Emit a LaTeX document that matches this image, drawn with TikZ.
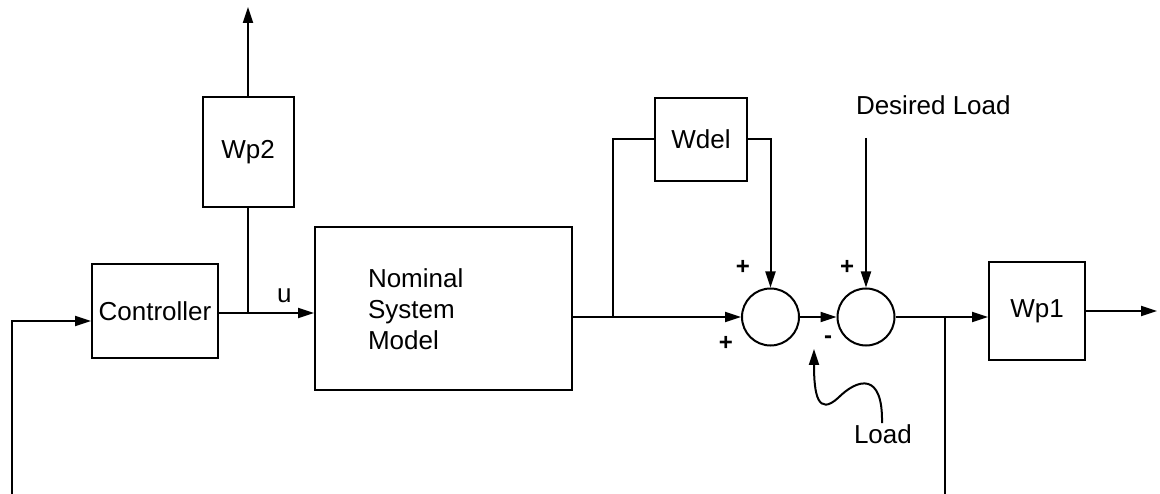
\documentclass[tikz,border=0pt]{standalone}
\usepackage{fontspec}
\setmainfont{Liberation Sans}
\usetikzlibrary{arrows.meta}
\begin{document}
\begin{tikzpicture}[x=1pt,y=-1pt,
  line width=2pt,
  every node/.style={font=\fontsize{26}{31}\selectfont},
  blk/.style={draw, line width=2pt, inner sep=0pt},
  sumj/.style={draw, circle, line width=2pt, minimum size=57pt, inner sep=0pt},
  arr/.style={-{Triangle[length=16pt,width=10pt]}},
  lbl/.style={inner sep=0pt},
  sgn/.style={inner sep=0pt, font=\fontsize{24}{28}\selectfont\bfseries}]
\useasboundingbox (0,0) rectangle (1160,494);
% blocks
\node[blk, minimum width=126pt, minimum height=94pt] (ctrl) at (155,311) {Controller};
\node[blk, minimum width=91pt, minimum height=110pt] (wp2) at (248,152) {Wp2};
\node[blk, minimum width=257pt, minimum height=163pt] (model) at (443.5,308.5) {};
\node[lbl, align=left, anchor=north west] (modeltxt) at (367,268) {Nominal\\System\\Model};
\node[blk, minimum width=92pt, minimum height=83pt] (wdel) at (701,139.5) {Wdel};
\node[blk, minimum width=96pt, minimum height=98pt] (wp1) at (1037,311) {Wp1};
\node[sumj] (s1) at (770.5,317) {};
\node[sumj] (s2) at (866,317) {};
% labels
\node[lbl, anchor=base west] (u) at (276,303) {u};
\node[lbl, anchor=base west] (dl) at (855,115) {Desired Load};
\node[lbl, anchor=base west] (load) at (853,443) {Load};
\node[sgn] (p1) at (743,267) {+};
\node[sgn] (p2) at (726,343) {+};
\node[sgn] (p3) at (847,267) {+};
\node[sgn] (m1) at (828,340) {-};
% free ends
\coordinate (fbL) at (12,494);
\coordinate (fbR) at (945,494);
\coordinate (top) at (248,7);
\coordinate (dlin) at (866,138);
\coordinate (out) at (1157,311);
\coordinate (br1) at (248,313);
\coordinate (br2) at (613,317);
\coordinate (br3) at (945,317);
% connectors
\draw[arr] (fbL) |- (ctrl.west |- 0,321);
\draw[arr] (ctrl.east |- br1) -- (model.west |- br1);
\draw (br1) -- (wp2.south);
\draw[arr] (wp2.north) -- (top);
\draw[arr] (model.east |- s1) -- (s1.west);
\draw (br2) |- (wdel.west);
\draw[arr] (wdel.east) -| (s1.north);
\draw[arr] (s1.east) -- (s2.west);
\draw[arr] (dlin) -- (s2.north);
\draw[arr] (s2.east) -- (wp1.west |- s2);
\draw (br3) -- (fbR);
\draw[arr] (wp1.east) -- (out);
\draw[arr] (load.north -| 882,0) .. controls (883,372) and (858,378) .. (838,398) .. controls (818,416) and (814,395) .. (814,349);
\end{tikzpicture}
\end{document}
